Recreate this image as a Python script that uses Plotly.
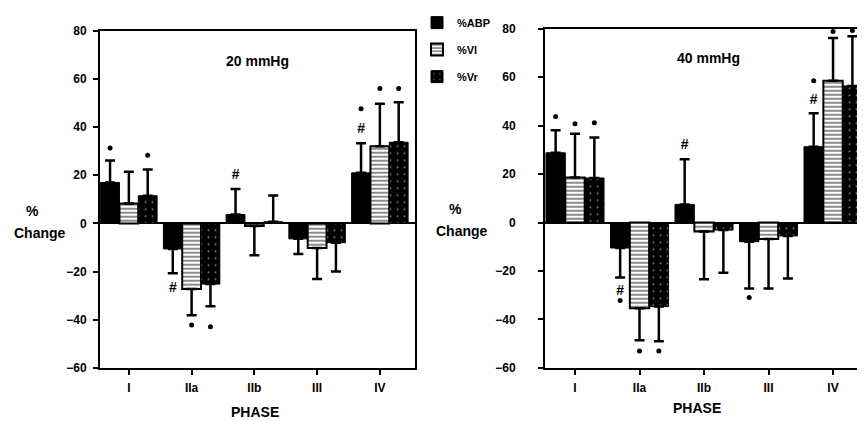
import plotly.graph_objects as go

phases = ["I", "IIa", "IIb", "III", "IV"]
series_names = ["%ABP", "%Vl", "%Vr"]

# 20 mmHg panel
abp20 = [17.0, -10.6, 3.7, -6.4, 21.0]
abp20_err = [9.1, 10.1, 10.6, 6.3, 12.3]
vl20 = [8.3, -27.2, -1.1, -10.2, 32.0]
vl20_err = [13.1, 10.9, 12.1, 12.9, 17.7]
vr20 = [11.5, -25.2, 0.7, -8.0, 33.7]
vr20_err = [10.9, 9.2, 10.9, 12.0, 16.6]

# 40 mmHg panel
abp40 = [28.8, -10.5, 7.5, -7.9, 31.3]
abp40_err = [9.3, 12.2, 18.6, 19.3, 13.8]
vl40 = [18.6, -35.4, -3.7, -6.8, 58.5]
vl40_err = [18.1, 13.2, 19.7, 20.4, 17.7]
vr40 = [18.4, -34.7, -3.1, -5.5, 56.4]
vr40_err = [16.7, 14.3, 17.6, 17.6, 20.5]

# significance marks (y position of symbol, None = no mark)
abp20_dot = [31.3, None, None, None, 47.6]
vl20_dot = [None, -42.2, None, None, 56.0]
vr20_dot = [28.3, -42.9, None, None, 56.0]
abp20_hash = [None, -27.2, 19.7, None, 38.8]

abp40_dot = [43.8, -32.2, None, -30.9, 58.5]
vl40_dot = [40.8, -53.0, None, None, 78.9]
vr40_dot = [41.2, -53.0, None, None, 79.3]
abp40_hash = [None, -28.6, 32.0, None, 50.3]

y_ticks = [-60, -40, -20, 0, 20, 40, 60, 80]

FONT = "Liberation Sans"
BARGAP = 0.1
W = (1 - BARGAP) / 3

# page has an 8px body margin: figure drawn at (8, 8)
OFF = 8
Wd = 865.0 - OFF
H = 421.0 - OFF

fig = go.Figure()

styles = [
    dict(color="black", line=dict(color="black", width=1)),
    dict(color="white", line=dict(color="black", width=2),
         pattern=dict(shape="-", fgcolor="black", bgcolor="white", size=4, solidity=0.45)),
    dict(color="black", line=dict(color="black", width=1),
         pattern=dict(shape=".", fgcolor="white", bgcolor="black", size=7, solidity=0.06)),
]

def err_arrays(vals, errs):
    up = [e if v >= 0 else 0 for v, e in zip(vals, errs)]
    dn = [e if v < 0 else 0 for v, e in zip(vals, errs)]
    return up, dn

panels = [
    ("x", "y", [abp20, vl20, vr20], [abp20_err, vl20_err, vr20_err],
     [abp20_dot, vl20_dot, vr20_dot], abp20_hash, True),
    ("x2", "y2", [abp40, vl40, vr40], [abp40_err, vl40_err, vr40_err],
     [abp40_dot, vl40_dot, vr40_dot], abp40_hash, False),
]

idx = list(range(len(phases)))
for xa, ya, vals_list, errs_list, dots_list, hashes, showleg in panels:
    for k, (name, vals, errs, st) in enumerate(zip(series_names, vals_list, errs_list, styles)):
        up, dn = err_arrays(vals, errs)
        fig.add_trace(go.Bar(
            x=idx, y=vals, name=name, marker=st, xaxis=xa, yaxis=ya,
            legendgroup=name, showlegend=showleg,
            error_y=dict(type="data", symmetric=False, array=up, arrayminus=dn,
                         color="black", thickness=2.5, width=5),
        ))
    for k, dots in enumerate(dots_list):
        xs = [i + (k - 1) * W for i, d in zip(idx, dots) if d is not None]
        ys = [d for d in dots if d is not None]
        fig.add_trace(go.Scatter(x=xs, y=ys, mode="markers", xaxis=xa, yaxis=ya,
                                 marker=dict(color="black", size=5), showlegend=False,
                                 hoverinfo="skip"))
    xs = [i - W for i, h in zip(idx, hashes) if h is not None]
    ys = [h for h in hashes if h is not None]
    fig.add_trace(go.Scatter(x=xs, y=ys, mode="text", text=["#"] * len(xs), xaxis=xa, yaxis=ya,
                             textfont=dict(family=FONT, size=14, color="black", weight="bold"),
                             showlegend=False, hoverinfo="skip"))

def px_x(p):
    return (p - OFF) / Wd

def px_y(p):
    return 1 - (p - OFF) / H

def xaxis_cfg(domain, rng, anchor):
    return dict(domain=domain, range=rng, tickmode="array", tickvals=idx, ticktext=phases,
                showline=True, mirror=True, linecolor="black", linewidth=2,
                ticks="outside", ticklen=5, tickwidth=2, tickcolor="black",
                showgrid=False, zeroline=False, automargin=False, anchor=anchor,
                ticklabelstandoff=3,
                tickfont=dict(family=FONT, size=12, color="black", weight="bold"))

def yaxis_cfg(domain, anchor, standoff):
    return dict(domain=domain, range=[-60, 80], tickmode="array", tickvals=y_ticks,
                showline=True, mirror=True, linecolor="black", linewidth=2,
                ticks="outside", ticklen=5, tickwidth=2, tickcolor="black",
                showgrid=False, zeroline=True, zerolinecolor="black", zerolinewidth=2,
                automargin=False, anchor=anchor, ticklabelstandoff=standoff,
                tickfont=dict(family=FONT, size=12, color="black", weight="bold"))

fig.update_layout(
    width=int(Wd), height=int(H),
    margin=dict(l=0, r=0, t=0, b=0),
    paper_bgcolor="white", plot_bgcolor="white",
    barmode="group", bargap=BARGAP, bargroupgap=0,
    xaxis=xaxis_cfg([px_x(100), px_x(415)], [-0.46, 4.56], "y"),
    yaxis=yaxis_cfg([px_y(367), px_y(24)], "x", 4),
    xaxis2=xaxis_cfg([px_x(545), px_x(864)], [-0.465, 4.48], "y2"),
    yaxis2=yaxis_cfg([px_y(367), px_y(22)], "x2", 20),
    showlegend=True,
    legend=dict(x=px_x(417), y=px_y(1), xanchor="left", yanchor="top",
                font=dict(family=FONT, size=11, color="black", weight="bold"),
                tracegroupgap=8, bgcolor="rgba(0,0,0,0)", itemclick=False),
)

def ann(text, x, y, size):
    fig.add_annotation(text=text, x=px_x(x), y=px_y(y), xref="paper", yref="paper",
                       showarrow=False, xanchor="center", yanchor="middle",
                       font=dict(family=FONT, size=size, color="black", weight="bold"))

ann("20 mmHg", 257, 55, 14)
ann("40 mmHg", 708, 52, 14)
ann("%", 32, 207, 14)
ann("Change", 40, 230, 14)
ann("%", 455, 205, 14)
ann("Change", 462, 228, 14)
ann("PHASE", 255, 412, 14)
ann("PHASE", 697, 408, 14)

fig.write_html("out.html")
